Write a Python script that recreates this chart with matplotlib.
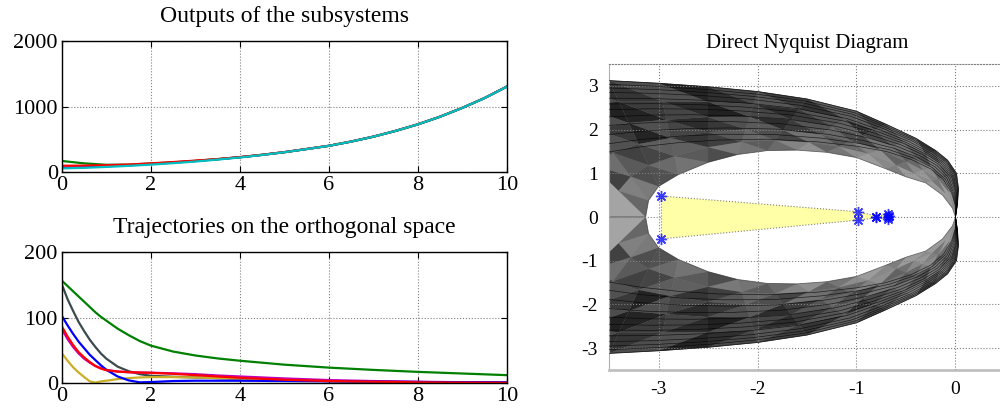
import numpy as np
import matplotlib.pyplot as plt
from matplotlib.patches import Polygon

plt.rcParams['axes.unicode_minus'] = False
plt.rcParams['font.family'] = ['Liberation Serif', 'DejaVu Serif']

# ---- data ----
t_out = [0, 0.5, 1, 1.5, 2, 2.5, 3, 3.5, 4, 4.5, 5, 5.5, 6, 6.5, 7, 7.5, 8, 8.5, 9, 9.5, 10]
out_blue = [65, 74, 88, 103, 122, 143, 168, 195, 226, 262, 303, 351, 400, 465, 540, 628, 728, 845, 980, 1130, 1305]
out_green = [168, 132, 110, 112, 130, 148, 170, 196, 226, 262, 303, 351, 400, 465, 540, 628, 728, 845, 980, 1130, 1305]
out_red = [95, 98, 104, 114, 132, 152, 174, 198, 228, 263, 304, 352, 401, 466, 541, 629, 729, 846, 981, 1131, 1306]
out_cyan = [55, 64, 78, 94, 113, 135, 160, 190, 222, 260, 302, 350, 400, 465, 540, 628, 728, 845, 980, 1130, 1305]

t_traj = [0, 0.125, 0.25, 0.375, 0.5, 0.625, 0.75, 0.875, 1, 1.25, 1.5, 1.75, 2,
          2.5, 3, 3.5, 4, 5, 6, 7, 8, 9, 10]
tr_green = [156, 148, 140, 132, 124, 116, 108, 101, 95, 83, 73, 64, 57,
            48, 42, 37.5, 34, 28, 23.5, 20, 17, 14.5, 12]
tr_dark = [150, 128, 110, 93, 79, 66, 55, 45, 37, 25, 18, 13.5, 11,
           9.5, 8.5, 7.5, 6.5, 4.5, 3, 2, 1.5, 1, 0.8]
tr_blue = [102, 88, 75, 63, 53, 43, 35, 27, 20, 10, 4, 1, 1.5,
           3, 3.5, 3.5, 3.5, 3, 2.5, 2, 1.5, 1, 1]
tr_red = [86, 71, 58, 47, 39, 32, 26, 22, 19.5, 17.5, 16.5, 16, 15.5,
          14, 12, 10, 8, 5, 3, 2, 1, 0.5, 0.3]
tr_yellow = [45, 34, 24, 16, 9, 2.5, 0.5, 2.5, 3.5, 6, 7.5, 8.5, 9,
             9, 8.5, 7.5, 6.5, 4.5, 3, 2, 1.2, 0.8, 0.5]
tr_magenta = [82, 67, 55, 45, 37, 31, 26, 22.5, 20, 17.5, 16.5, 16, 15.8,
              14.8, 13.5, 11.5, 10, 7, 4.5, 3, 2, 1.2, 0.6]

# Nyquist band, upper half (mirrored for the lower half)
outer_x = [0.0, 0.02, 0.03, 0.01, -0.08, -0.2, -0.4, -0.7, -1.0, -1.5, -2.0, -2.5, -3.0, -3.5, -4.0, -4.5]
outer_y = [0.0, 0.3, 0.65, 1.0, 1.3, 1.52, 1.8, 2.12, 2.42, 2.7, 2.87, 2.98, 3.06, 3.12, 3.1, 3.0]
inner_x = [0.0, -0.03, -0.13, -0.3, -0.5, -0.7, -1.0, -1.3, -1.6, -1.9, -2.2, -2.5, -2.8, -3.0, -3.1, -3.13]
inner_y = [0.0, 0.2, 0.5, 0.78, 0.92, 1.1, 1.36, 1.48, 1.53, 1.52, 1.43, 1.25, 0.97, 0.7, 0.38, 0.0]
lowest_x = [0.0, 0.0, -0.04, -0.12, -0.25, -0.45, -0.7, -1.0, -1.4, -1.9, -2.4, -2.8, -3.2, -3.6, -4.0, -4.5]
lowest_y = [0.0, 0.25, 0.55, 0.85, 1.1, 1.32, 1.5, 1.62, 1.72, 1.78, 1.76, 1.7, 1.6, 1.45, 1.3, 1.1]
curve_frac = [0.0, 0.12, 0.25, 0.38, 0.5, 0.6, 0.68, 0.76, 0.84, 0.9, 0.95, 1.0]
layer_frac = [0.0, 0.2, 0.4, 0.6, 0.8, 1.0]

region_x = [-2.97, -0.98, -0.80, -0.68, -0.68, -0.80, -0.98, -2.97]
region_y = [0.48, 0.12, 0.02, 0.06, -0.05, -0.02, -0.07, -0.50]
eig_x = [-2.97, -2.97, -0.98, -0.98, -0.80, -0.80, -0.68, -0.68, -0.68, -0.67]
eig_y = [0.48, -0.50, 0.12, -0.07, 0.0, -0.01, 0.06, -0.05, 0.0, 0.02]

# old matlab colour order
c_b = (0, 0, 1)
c_g = (0, 0.5, 0)
c_r = (1, 0, 0)
c_c = (0, 0.75, 0.75)
c_m = (0.75, 0, 0.75)
c_y = '#c9ae26'
c_k = '#3c4a4c'

fig = plt.figure(figsize=(10, 4.18), dpi=100)

def style_left(ax):
    ax.grid(True, linestyle=':', color='#808080', linewidth=0.8)
    ax.tick_params(direction='in', top=True, right=True, labelsize=16, length=4, pad=3)
    for s in ax.spines.values():
        s.set_color('black')
        s.set_linewidth(1.0)
    ax.set_xlim(0, 10)
    ax.set_xticks([0, 2, 4, 6, 8, 10])

ax1 = fig.add_axes([0.062, 0.5885, 0.445, 0.3134])
style_left(ax1)
for vals, col in [(out_blue, c_b), (out_green, c_g), (out_red, c_r), (out_cyan, c_c)]:
    ax1.plot(t_out, vals, color=col, linewidth=1.6)
ax1.set_ylim(0, 2000)
ax1.set_yticks([0, 1000, 2000])
ax1.set_title('Outputs of the subsystems', fontsize=17, pad=14)

ax2 = fig.add_axes([0.062, 0.0837, 0.445, 0.3134])
style_left(ax2)
for vals, col in [(tr_dark, c_k), (tr_yellow, c_y), (tr_magenta, c_m), (tr_blue, c_b),
                  (tr_green, c_g), (tr_red, c_r)]:
    ax2.plot(t_traj, vals, color=col, linewidth=1.6)
ax2.set_ylim(0, 200)
ax2.set_yticks([0, 100, 200])
ax2.set_title('Trajectories on the orthogonal space', fontsize=17, pad=14)

# ---- Nyquist diagram ----
ax3 = fig.add_axes([0.609, 0.1148, 0.396, 0.7321])
ax3.set_xlim(-3.5, 0.5)
ax3.set_ylim(-3.5, 3.5)

ox, oy = np.array(outer_x), np.array(outer_y)
ix, iy = np.array(inner_x), np.array(inner_y)
lx, ly = np.array(lowest_x), np.array(lowest_y)
layers = [(ix + f * (ox - ix), iy + f * (oy - iy)) for f in layer_frac]
curves = [(lx + f * (ox - lx), ly + f * (oy - ly)) for f in curve_frac]

seg_alpha = [0.12, 0.15, 0.18, 0.22, 0.26, 0.3, 0.36, 0.42, 0.48, 0.52, 0.56, 0.58, 0.58, 0.55, 0.5]
layer_mod = [-0.18, -0.05, 0.05, 0.1, 0.05]
tri_var = [0.1, -0.12, 0.05, -0.05, 0.15, -0.1]

for sgn in (1, -1):
    band_x = np.concatenate([ox, [-4.5], ix[::-1]])
    band_y = np.concatenate([oy, [0.0], iy[::-1]]) * sgn
    ax3.add_patch(Polygon(np.column_stack([band_x, band_y]), closed=True,
                          facecolor='#a4a4a4', edgecolor='#6a6a6a', linewidth=0.6, zorder=1))
    for i in range(len(layers) - 1):
        px, py = layers[i]
        qx, qy = layers[i + 1]
        for j in range(len(px) - 1):
            a1 = seg_alpha[j] + layer_mod[i] + tri_var[(2 * i + j) % len(tri_var)]
            a2 = seg_alpha[j] + layer_mod[i] + tri_var[(2 * i + j + 3) % len(tri_var)]
            t1 = [(px[j], sgn * py[j]), (px[j + 1], sgn * py[j + 1]), (qx[j + 1], sgn * qy[j + 1])]
            t2 = [(px[j], sgn * py[j]), (qx[j], sgn * qy[j]), (qx[j + 1], sgn * qy[j + 1])]
            ax3.add_patch(Polygon(t1, closed=True, facecolor='black', edgecolor='none',
                                  alpha=min(max(a1, 0.05), 0.8), zorder=2))
            ax3.add_patch(Polygon(t2, closed=True, facecolor='black', edgecolor='none',
                                  alpha=min(max(a2, 0.05), 0.8), zorder=2))
    for cx, cy in curves:
        ax3.plot(cx, sgn * cy, color='black', linewidth=0.5, alpha=0.7, zorder=3)

ax3.add_patch(Polygon(np.column_stack([region_x, region_y]), closed=True,
                      facecolor='#ffffa8', edgecolor='#808080', linestyle=':', linewidth=0.8, zorder=4))
ax3.plot(eig_x, eig_y, linestyle='none', marker=(8, 2, 0), color='blue', markersize=8,
         markeredgewidth=1.0, alpha=0.75, zorder=5)

ax3.grid(True, linestyle=':', color='#808080', linewidth=0.8)
ax3.set_axisbelow(False)
ax3.set_xticks([-3, -2, -1, 0])
ax3.set_yticks([-3, -2, -1, 0, 1, 2, 3])
ax3.tick_params(direction='in', labelsize=14, length=0, pad=8, colors='black')
ax3.spines['top'].set_linestyle(':')
ax3.spines['top'].set_color('#808080')
ax3.spines['right'].set_visible(False)
ax3.spines['left'].set_color('#b0b0b0')
ax3.spines['bottom'].set_color('#c0c0c0')
ax3.spines['bottom'].set_linewidth(2)
ax3.set_title('Direct Nyquist Diagram', fontsize=15, pad=11.5)

plt.savefig('out.png', dpi=100)
